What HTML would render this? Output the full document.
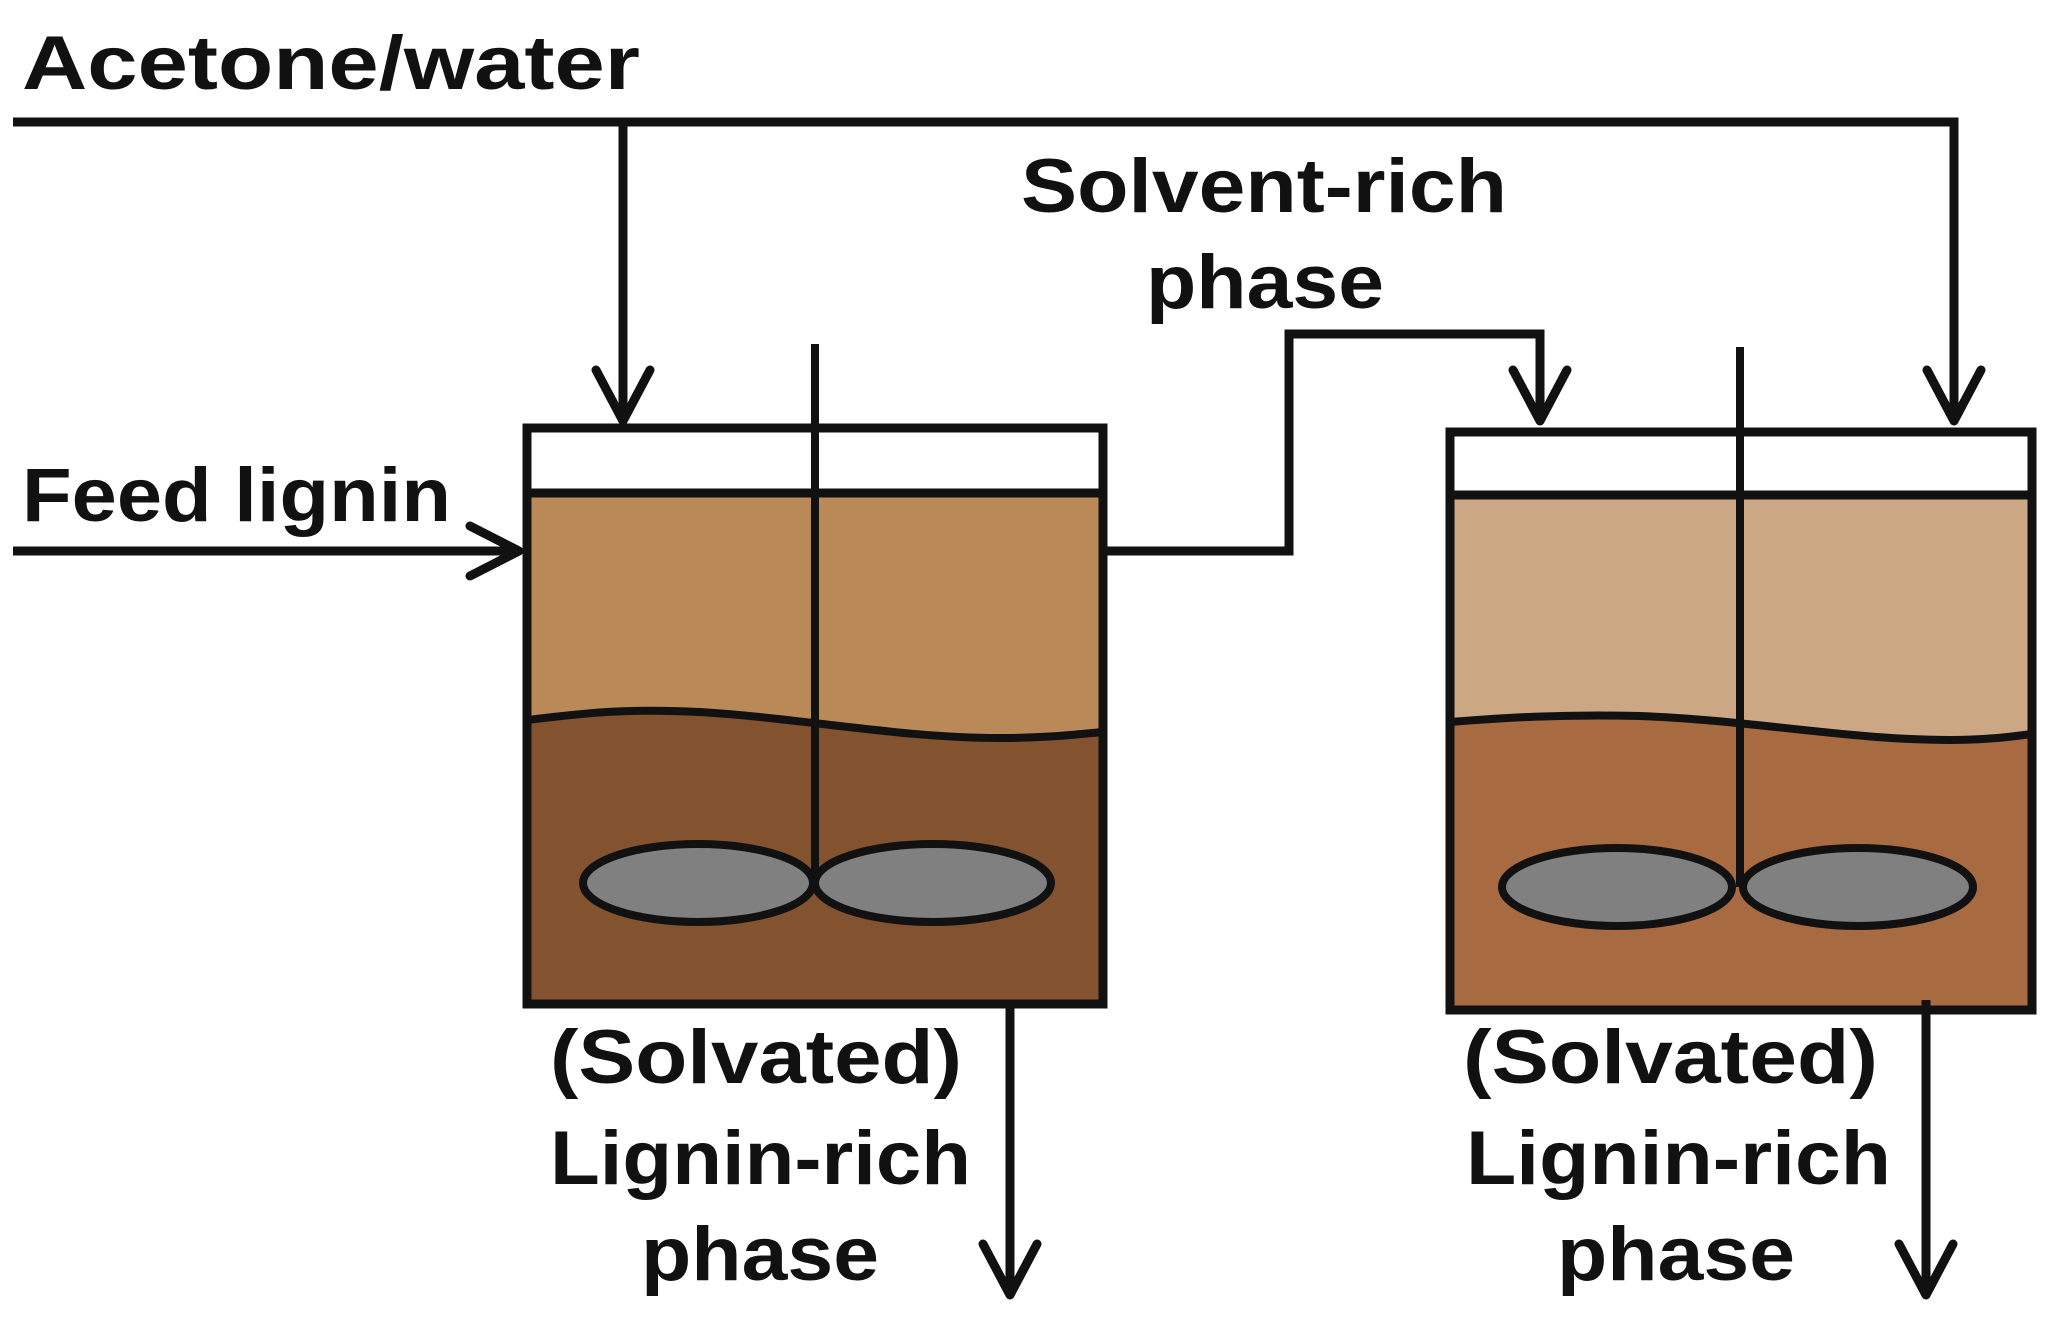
<!DOCTYPE html>
<html><head><style>html,body{margin:0;padding:0;background:#fff}svg{display:block}</style></head><body>
<svg width="2049" height="1323" viewBox="0 0 2049 1323" xmlns="http://www.w3.org/2000/svg">
<g font-family="Liberation Sans, sans-serif" font-weight="bold" font-size="76" fill="#111">
<text x="22" y="89" textLength="618" lengthAdjust="spacingAndGlyphs">Acetone/water</text>
<text x="22" y="521" textLength="429" lengthAdjust="spacingAndGlyphs">Feed lignin</text>
<text x="1021" y="212" textLength="486" lengthAdjust="spacingAndGlyphs">Solvent-rich</text>
<text x="1146" y="308" textLength="238" lengthAdjust="spacingAndGlyphs">phase</text>
<text x="550" y="1083" textLength="412" lengthAdjust="spacingAndGlyphs">(Solvated)</text>
<text x="550" y="1184" textLength="421" lengthAdjust="spacingAndGlyphs">Lignin-rich</text>
<text x="641" y="1280" textLength="238" lengthAdjust="spacingAndGlyphs">phase</text>
<text x="1463" y="1083" textLength="415" lengthAdjust="spacingAndGlyphs">(Solvated)</text>
<text x="1466" y="1184" textLength="425" lengthAdjust="spacingAndGlyphs">Lignin-rich</text>
<text x="1557" y="1280" textLength="238" lengthAdjust="spacingAndGlyphs">phase</text>
</g>
<!-- tank1 -->
<rect x="527" y="428" width="576" height="576" fill="#fff"/>
<rect x="527" y="493" width="576" height="511" fill="#B98A57"/>
<path d="M527,720 C580,714 620,708 700,712 C800,718 900,738 1000,738 C1050,738 1080,734 1103,732 L1103,1004 L527,1004 Z" fill="#83532F"/>
<path d="M527,720 C580,714 620,708 700,712 C800,718 900,738 1000,738 C1050,738 1080,734 1103,732" fill="none" stroke="#111" stroke-width="8"/>
<line x1="527" y1="493" x2="1103" y2="493" stroke="#111" stroke-width="9"/>
<rect x="527" y="428" width="576" height="576" fill="none" stroke="#111" stroke-width="9"/>
<line x1="815" y1="344" x2="815" y2="883" stroke="#111" stroke-width="8"/>
<ellipse cx="698" cy="883" rx="115" ry="39" fill="#808080" stroke="#111" stroke-width="8"/>
<ellipse cx="933" cy="883" rx="118" ry="39" fill="#808080" stroke="#111" stroke-width="8"/>
<!-- tank2 -->
<rect x="1450" y="432" width="582" height="578" fill="#fff"/>
<rect x="1450" y="495" width="582" height="515" fill="#CCA784"/>
<path d="M1450,722 C1500,718 1560,714 1640,716 C1750,720 1850,740 1950,740 C1990,740 2015,736 2032,734 L2032,1010 L1450,1010 Z" fill="#A86A40"/>
<path d="M1450,722 C1500,718 1560,714 1640,716 C1750,720 1850,740 1950,740 C1990,740 2015,736 2032,734" fill="none" stroke="#111" stroke-width="8"/>
<line x1="1450" y1="495" x2="2032" y2="495" stroke="#111" stroke-width="9"/>
<rect x="1450" y="432" width="582" height="578" fill="none" stroke="#111" stroke-width="9"/>
<line x1="1740" y1="347" x2="1740" y2="887" stroke="#111" stroke-width="8"/>
<ellipse cx="1617" cy="887" rx="115" ry="39" fill="#808080" stroke="#111" stroke-width="8"/>
<ellipse cx="1858" cy="887" rx="115" ry="39" fill="#808080" stroke="#111" stroke-width="8"/>
<!-- connectors -->
<g fill="none" stroke="#111" stroke-width="9" stroke-linejoin="miter">
<polyline points="13,122 1954,122 1954,421"/>
<line x1="623" y1="122" x2="623" y2="421"/>
<line x1="13" y1="551" x2="517" y2="551"/>
<polyline points="1103,551 1289,551 1289,334 1540,334 1540,421"/>
<line x1="1010" y1="1004" x2="1010" y2="1292"/>
<line x1="1926" y1="1000" x2="1926" y2="1292"/>
</g>
<g fill="none" stroke="#111" stroke-width="9" stroke-linecap="round" stroke-linejoin="round">
<polyline points="596,370 623,421 650,370"/>
<polyline points="1927,370 1954,421 1981,370"/>
<polyline points="1513,370 1540,421 1567,370"/>
<polyline points="470,526 519,551 470,576"/>
<polyline points="983,1244 1010,1295 1037,1244"/>
<polyline points="1899,1244 1926,1295 1953,1244"/>
</g>
</svg>
</body></html>
